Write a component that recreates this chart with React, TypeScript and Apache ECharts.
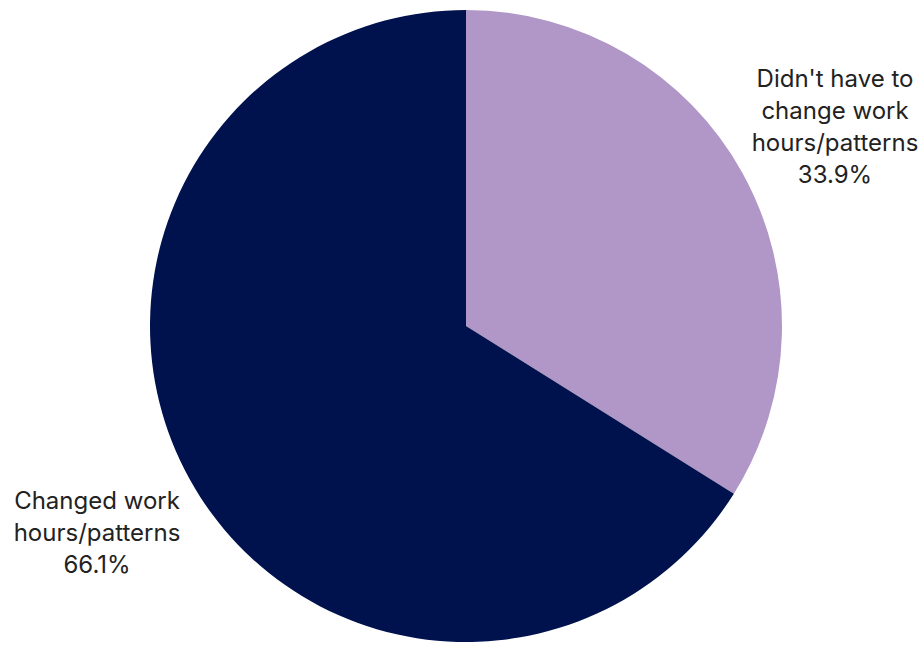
import React, { useEffect, useRef } from "react";
import * as echarts from "echarts";

const categories = ["Didn't have to\nchange work\nhours/patterns", "Changed work\nhours/patterns"];
const values = [33.9, 66.1];
const colors = ["#b097c8", "#00124d"];
const labelPositions = [
  { x: 835, y: 126 },
  { x: 97, y: 532 },
];

export default function App() {
  const ref = useRef<HTMLDivElement>(null);
  useEffect(() => {
    const chart = echarts.init(ref.current!, null, { renderer: "svg" });
    chart.setOption({
      animation: false,
      backgroundColor: "#ffffff",
      series: [
        {
          type: "pie",
          center: [466, 326],
          radius: 316,
          startAngle: 90,
          clockwise: true,
          data: categories.map((c, i) => ({
            name: c,
            value: values[i],
            itemStyle: { color: colors[i] },
          })),
          label: {
            show: true,
            formatter: (p: any) => `${p.name}\n${p.value.toFixed(1)}%`,
            fontFamily: "Inter",
            fontSize: 24,
            lineHeight: 32,
            color: "#222222",
            align: "center",
            overflow: "none",
            width: 300,
          },
          labelLine: { show: false },
          labelLayout: (params: any) => ({
            x: labelPositions[params.dataIndex].x,
            y: labelPositions[params.dataIndex].y,
            align: "center",
            verticalAlign: "middle",
          }),
        },
      ],
    });
    return () => chart.dispose();
  }, []);
  return (
    <div
      ref={ref}
      style={{ position: "fixed", left: 0, top: 0, width: 921, height: 653 }}
    />
  );
}
